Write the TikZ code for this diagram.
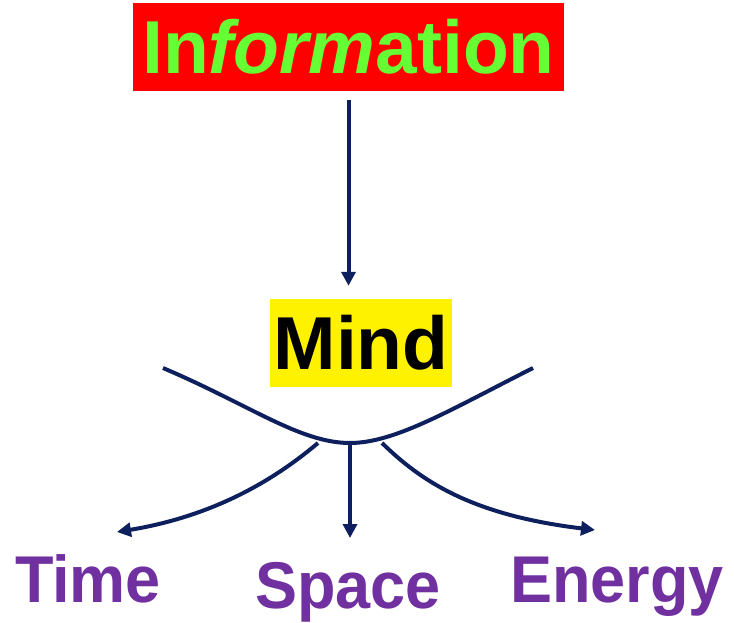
\documentclass[tikz,border=0pt]{standalone}
\usepackage{fontspec}
\setmainfont{Liberation Sans}
\usetikzlibrary{arrows.meta}
\definecolor{navy}{HTML}{0E1F5E}
\definecolor{lime}{HTML}{66FF33}
\definecolor{purp}{HTML}{7030A0}
\begin{document}
\begin{tikzpicture}[x=1pt,y=1pt,
  conn/.style={draw=navy, line width=4pt},
  arr/.style={conn, -{Triangle[length=14pt,width=14pt]}},
  lbl/.style={text=purp, font=\fontsize{63}{63}\selectfont\bfseries, anchor=base, inner sep=0pt}]
\useasboundingbox (0,0) rectangle (734,-623);
\node[fill=red, minimum width=431pt, minimum height=88pt, inner sep=0pt, text=lime,
  font=\fontsize{75}{75}\selectfont\bfseries] (info) at (348.5,-47) {In\textit{form}ation};
\node[fill=yellow, minimum width=182pt, minimum height=88pt, inner sep=0pt, text=black,
  font=\fontsize{75}{75}\selectfont\bfseries] (mind) at (361,-343) {Mind};
\draw[arr, shorten <=9pt, shorten >=13pt] (info.south) -- (info.south |- mind.north);
\coordinate (cl) at (163,-368);
\coordinate (cr) at (533,-368);
\coordinate (hub) at (350,-443);
\coordinate (hl) at (318,-443);
\coordinate (hr) at (382,-443);
\draw[conn] (cl) .. controls (250,-405) and (300,-443) .. (hub)
  .. controls (395,-443) and (450,-410) .. (cr);
\node[lbl, yscale=1.05] (time) at (88,-602) {Time};
\node[lbl, yscale=1.05] (space) at (348,-608) {Space};
\node[lbl, yscale=1.05] (energy) at (617,-602) {Energy};
\coordinate (tl) at (117,-532);
\coordinate (tr) at (595,-530);
\coordinate (tm) at (350,-538);
\draw[arr] (hl) .. controls (280,-475) and (220,-515) .. (tl);
\draw[arr] (hub) -- (tm);
\draw[arr] (hr) .. controls (420,-480) and (470,-515) .. (tr);
\end{tikzpicture}
\end{document}
